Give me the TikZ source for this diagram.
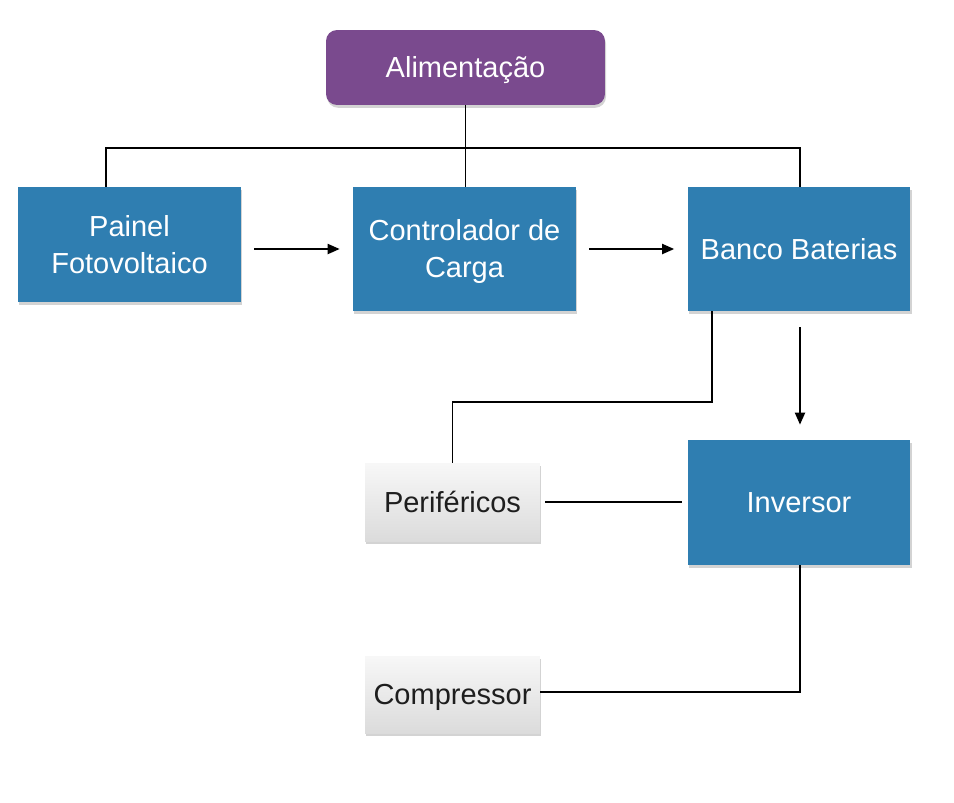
\documentclass[tikz,border=0pt]{standalone}
\usepackage{fontspec}
\setmainfont{Liberation Sans}
\usepackage{xcolor}
\usetikzlibrary{positioning}
\usetikzlibrary{arrows.meta}
\usetikzlibrary{shadows}
\definecolor{caixaazul}{RGB}{47,126,177}
\definecolor{caixaroxa}{RGB}{122,74,142}
\definecolor{textoescuro}{RGB}{30,30,30}

\begin{document}
\begin{tikzpicture}[x=0.02cm, y=-0.02cm,
   sombra/.style={drop shadow={shadow xshift=0.6pt, shadow yshift=-1.6pt, opacity=0.35}},
   umalinha/.style={text height=11.8pt, text depth=0pt},
   duaslinhas/.style={text height=32.8pt, text depth=0pt},
   azul/.style={rectangle, fill=caixaazul, text=white, sombra, align=center,
      minimum width=4.46cm, minimum height=2.48cm, font=\fontsize{16.5}{21}\selectfont},
   cinza/.style={rectangle, top color=gray!6, bottom color=gray!28, text=textoescuro, sombra, umalinha,
      minimum width=3.5cm, minimum height=1.56cm, font=\fontsize{16.5}{21}\selectfont},
   liga/.style={draw, line width=1.1pt},
   seta/.style={liga, -{Triangle[length=0.24cm, width=0.2cm]}}]
\useasboundingbox (0,0) rectangle (954,802);

\begin{scope}
   \node (alim) [rectangle, rounded corners=0.22cm, fill=caixaroxa, text=white, sombra, umalinha,
      minimum width=5.58cm, minimum height=1.5cm, font=\fontsize{16.5}{21}\selectfont]
      at (465.5,67.5) {Alimentação};

   \node (painel) [azul, duaslinhas, minimum height=2.3cm] at (129.5,244.5) {Painel\\Fotovoltaico};
   \node (ctrl) [azul, duaslinhas] at (464.5,249) {Controlador de\\Carga};
   \node (banco) [azul, umalinha] at (799,249) {Banco Baterias};
   \node (inv) [azul, umalinha, minimum height=2.5cm] at (799,502.5) {Inversor};

   \node (perif) [cinza] at (452.5,502) {Periféricos};
   \node (comp) [cinza, minimum height=1.54cm] at (452.5,694.5) {Compressor};
\end{scope}

\begin{scope}
   \coordinate (barraE) at (106,148);
   \coordinate (barraD) at (800,148);
   \coordinate (desvio) at (712,402);
   \coordinate (canto) at (800,692);

   \draw [liga] (alim.south) -- (alim.south |- ctrl.north);
   \draw [liga] (painel.north -| barraE) -- (barraE) -- (barraD) -- (banco.north -| barraD);

   \draw [seta, shorten <=0.26cm, shorten >=0.26cm] (painel.east |- ctrl.west) -- (ctrl.west);
   \draw [seta, shorten <=0.26cm, shorten >=0.26cm] (ctrl.east) -- (banco.west);
   \draw [seta, shorten <=0.32cm, shorten >=0.3cm] (banco.south -| barraD) -- (inv.north -| barraD);

   \draw [liga] (banco.south -| desvio) -- (desvio) -- (desvio -| perif.north) -- (perif.north);
   \draw [liga, shorten <=0.1cm, shorten >=0.1cm] (perif.east) -- (perif.east -| inv.west);
   \draw [liga] (inv.south -| canto) -- (canto) -- (canto -| comp.east);
\end{scope}
\end{tikzpicture}
\end{document}
